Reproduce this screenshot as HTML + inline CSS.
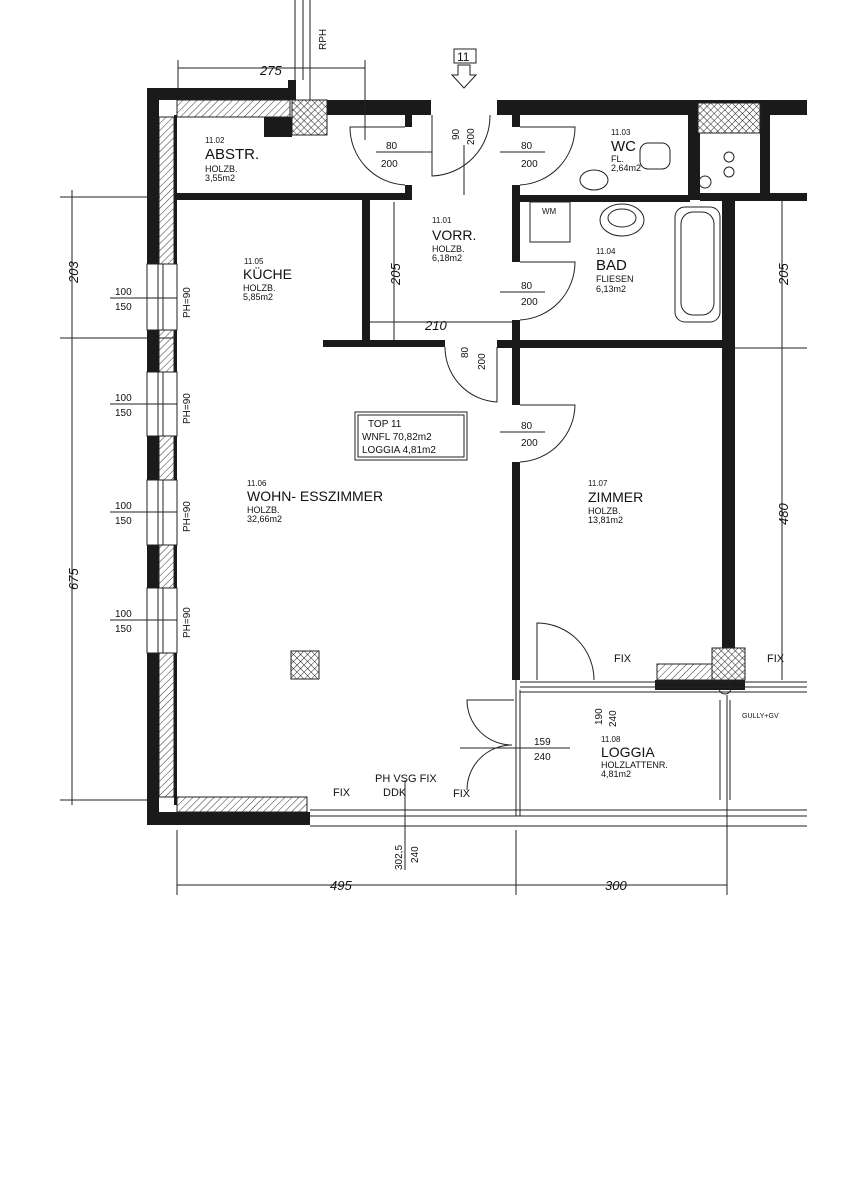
<!DOCTYPE html>
<html><head><meta charset="utf-8"><style>
html,body{margin:0;padding:0;background:#fff;}
svg{display:block;}
text{font-family:"Liberation Sans",sans-serif;fill:#111;}
</style></head><body>
<svg width="850" height="1200" viewBox="0 0 850 1200" xmlns="http://www.w3.org/2000/svg">
<defs>
<pattern id="h" width="5" height="5" patternUnits="userSpaceOnUse" patternTransform="rotate(45)"><rect width="5" height="5" fill="#fff"/><line x1="0" y1="0" x2="0" y2="5" stroke="#333" stroke-width="1"/></pattern>
<pattern id="x" width="5" height="5" patternUnits="userSpaceOnUse" patternTransform="rotate(45)"><rect width="5" height="5" fill="#fff"/><line x1="0" y1="0" x2="0" y2="5" stroke="#222" stroke-width="1"/><line x1="0" y1="0" x2="5" y2="0" stroke="#222" stroke-width="1"/></pattern>
</defs>
<g fill="#1a1a1a">
<!-- left outer wall -->
<rect x="147" y="88" width="12" height="737"/>
<rect x="174" y="115" width="3" height="690"/>
<!-- top -->
<rect x="147" y="88" width="148" height="12"/>
<rect x="288" y="80" width="8" height="20"/>
<rect x="327" y="100" width="104" height="15"/>
<rect x="497" y="100" width="310" height="15"/>
<rect x="264" y="117" width="28" height="20"/>
<!-- abstr -->
<rect x="177" y="193" width="235" height="7"/>
<rect x="405" y="115" width="7" height="12"/>
<rect x="405" y="185" width="7" height="15"/>
<rect x="362" y="200" width="8" height="143"/>
<rect x="323" y="340" width="122" height="7"/>
<rect x="497" y="340" width="228" height="8"/>
<!-- central wall -->
<rect x="512" y="115" width="8" height="12"/>
<rect x="512" y="185" width="8" height="77"/>
<rect x="512" y="320" width="8" height="85"/>
<rect x="512" y="462" width="8" height="218"/>
<!-- wc/bad -->
<rect x="520" y="195" width="170" height="7"/>
<rect x="688" y="100" width="12" height="100"/>
<rect x="700" y="193" width="107" height="8"/>
<rect x="760" y="100" width="10" height="95"/>
<rect x="722" y="200" width="13" height="450"/>
<!-- bottom -->
<rect x="147" y="812" width="163" height="13"/>
<rect x="655" y="680" width="90" height="10"/>
</g>
<g stroke="#222" stroke-width="1">
<rect x="159" y="117" width="15" height="148" fill="url(#h)"/>
<rect x="177" y="100" width="113" height="17" fill="url(#h)"/>
<rect x="292" y="100" width="35" height="35" fill="url(#x)"/>
<rect x="698" y="103" width="62" height="30" fill="url(#x)"/>
<rect x="159" y="330" width="15" height="42" fill="url(#h)"/>
<rect x="159" y="436" width="15" height="44" fill="url(#h)"/>
<rect x="159" y="545" width="15" height="43" fill="url(#h)"/>
<rect x="159" y="653" width="15" height="144" fill="url(#h)"/>
<rect x="177" y="797" width="130" height="15" fill="url(#h)"/>
<rect x="657" y="664" width="55" height="16" fill="url(#h)"/>
<rect x="712" y="648" width="33" height="32" fill="url(#x)"/>
<rect x="291" y="651" width="28" height="28" fill="url(#x)"/>
</g>
<g fill="#fff" stroke="#222" stroke-width="1">
<rect x="147" y="264" width="30" height="66"/><rect x="158" y="264" width="5" height="66"/>
<rect x="147" y="372" width="30" height="64"/><rect x="158" y="372" width="5" height="64"/>
<rect x="147" y="480" width="30" height="65"/><rect x="158" y="480" width="5" height="65"/>
<rect x="147" y="588" width="30" height="65"/><rect x="158" y="588" width="5" height="65"/>
</g>
<g fill="none" stroke="#222" stroke-width="1">
<!-- windows bottom -->
<line x1="310" y1="810" x2="807" y2="810"/><line x1="310" y1="816" x2="807" y2="816"/>
<line x1="310" y1="826" x2="807" y2="826"/>
<line x1="520" y1="682" x2="807" y2="682"/><line x1="520" y1="687" x2="807" y2="687"/>
<line x1="520" y1="692" x2="807" y2="692"/>
<line x1="516" y1="680" x2="516" y2="816"/><line x1="520" y1="690" x2="520" y2="816"/>
<!-- doors -->
<path d="M405 127 L350 127 A58 58 0 0 0 405 185"/>
<path d="M432 115 L432 176 A60 60 0 0 0 490 115"/>
<path d="M520 127 L575 127 A58 58 0 0 1 520 185"/>
<path d="M520 262 L575 262 A58 58 0 0 1 520 320"/>
<path d="M445 347 A55 55 0 0 0 497 402 L497 347"/>
<path d="M520 405 L575 405 A58 58 0 0 1 520 462"/>
<path d="M537 680 L537 623 A57 57 0 0 1 594 680"/>
<path d="M514 700 L467 700 A45 45 0 0 0 512 745 A45 45 0 0 0 467 790"/>
<!-- dims -->
<line x1="72" y1="190" x2="72" y2="805"/>
<line x1="60" y1="197" x2="160" y2="197"/><line x1="60" y1="338" x2="177" y2="338"/>
<line x1="60" y1="800" x2="150" y2="800"/>
<line x1="177" y1="885" x2="727" y2="885"/>
<line x1="177" y1="830" x2="177" y2="895"/><line x1="516" y1="830" x2="516" y2="895"/>
<line x1="727" y1="695" x2="727" y2="895"/>
<line x1="178" y1="68" x2="365" y2="68"/><line x1="178" y1="60" x2="178" y2="88"/><line x1="365" y1="60" x2="365" y2="140"/>
<line x1="782" y1="200" x2="782" y2="680"/><line x1="735" y1="348" x2="807" y2="348"/>
<line x1="370" y1="322" x2="512" y2="322"/><line x1="394" y1="202" x2="394" y2="340"/>
<line x1="110" y1="298" x2="177" y2="298"/><line x1="110" y1="404" x2="177" y2="404"/>
<line x1="110" y1="512" x2="177" y2="512"/><line x1="110" y1="620" x2="177" y2="620"/>
<line x1="376" y1="152" x2="432" y2="152"/><line x1="500" y1="152" x2="545" y2="152"/>
<line x1="500" y1="292" x2="545" y2="292"/><line x1="500" y1="432" x2="545" y2="432"/>
<line x1="460" y1="748" x2="570" y2="748"/><line x1="405" y1="780" x2="405" y2="870"/>
<line x1="464" y1="145" x2="464" y2="195"/>
<line x1="295" y1="0" x2="295" y2="80"/><line x1="310" y1="0" x2="310" y2="100"/><line x1="303" y1="0" x2="303" y2="80"/>
<line x1="720" y1="700" x2="720" y2="800"/><line x1="730" y1="700" x2="730" y2="800"/>
<!-- fixtures -->
<rect x="530" y="202" width="40" height="40"/>
<rect x="675" y="207" width="45" height="115" rx="10"/>
<rect x="681" y="212" width="33" height="103" rx="12"/>
<ellipse cx="622" cy="220" rx="22" ry="16"/><ellipse cx="622" cy="218" rx="14" ry="9"/>
<ellipse cx="594" cy="180" rx="14" ry="10"/>
<rect x="640" y="143" width="30" height="26" rx="8"/>
<rect x="454" y="49" width="22" height="14"/>
<path d="M458 65 L470 65 L470 75 L476 75 L464 88 L452 75 L458 75 Z"/>
<rect x="355" y="412" width="112" height="48"/><rect x="358" y="415" width="106" height="42"/>
<circle cx="705" cy="182" r="6"/><circle cx="729" cy="157" r="5"/><circle cx="729" cy="172" r="5"/>
<circle cx="725" cy="688" r="6"/>
</g>
<g font-size="10">
<text x="205" y="143" font-size="8">11.02</text>
<text x="205" y="159" font-size="15">ABSTR.</text>
<text x="205" y="172" font-size="9">HOLZB.</text>
<text x="205" y="181" font-size="9">3,55m2</text>
<text x="244" y="264" font-size="8">11.05</text>
<text x="243" y="279" font-size="14">KÜCHE</text>
<text x="243" y="291" font-size="9">HOLZB.</text>
<text x="243" y="300" font-size="9">5,85m2</text>
<text x="432" y="223" font-size="8">11.01</text>
<text x="432" y="240" font-size="14">VORR.</text>
<text x="432" y="252" font-size="9">HOLZB.</text>
<text x="432" y="261" font-size="9">6,18m2</text>
<text x="611" y="135" font-size="8">11.03</text>
<text x="611" y="151" font-size="15">WC</text>
<text x="611" y="162" font-size="9">FL.</text>
<text x="611" y="171" font-size="9">2,64m2</text>
<text x="542" y="214" font-size="8">WM</text>
<text x="596" y="254" font-size="8">11.04</text>
<text x="596" y="270" font-size="15">BAD</text>
<text x="596" y="282" font-size="9">FLIESEN</text>
<text x="596" y="292" font-size="9">6,13m2</text>
<text x="368" y="427" font-size="10">TOP 11</text>
<text x="362" y="440" font-size="10">WNFL 70,82m2</text>
<text x="362" y="453" font-size="10">LOGGIA 4,81m2</text>
<text x="247" y="486" font-size="8">11.06</text>
<text x="247" y="501" font-size="14">WOHN- ESSZIMMER</text>
<text x="247" y="513" font-size="9">HOLZB.</text>
<text x="247" y="522" font-size="9">32,66m2</text>
<text x="588" y="486" font-size="8">11.07</text>
<text x="588" y="502" font-size="14">ZIMMER</text>
<text x="588" y="514" font-size="9">HOLZB.</text>
<text x="588" y="523" font-size="9">13,81m2</text>
<text x="601" y="742" font-size="8">11.08</text>
<text x="601" y="757" font-size="14">LOGGIA</text>
<text x="601" y="768" font-size="9">HOLZLATTENR.</text>
<text x="601" y="777" font-size="9">4,81m2</text>
<text x="614" y="662" font-size="11">FIX</text><text x="767" y="662" font-size="11">FIX</text>
<text x="333" y="796" font-size="11">FIX</text><text x="453" y="797" font-size="11">FIX</text>
<text x="375" y="782" font-size="11">PH VSG FIX</text><text x="383" y="796" font-size="11">DDK</text>
<text x="742" y="718" font-size="7">GULLY+GV</text>
<text x="457" y="61" font-size="12">11</text>
<text x="386" y="149">80</text><text x="381" y="167">200</text>
<text x="521" y="149">80</text><text x="521" y="167">200</text>
<text x="521" y="289">80</text><text x="521" y="305">200</text>
<text x="521" y="429">80</text><text x="521" y="446">200</text>
<text x="534" y="745">159</text><text x="534" y="760">240</text>
<text x="115" y="295">100</text><text x="115" y="310">150</text>
<text x="115" y="401">100</text><text x="115" y="416">150</text>
<text x="115" y="509">100</text><text x="115" y="524">150</text>
<text x="115" y="617">100</text><text x="115" y="632">150</text>
<text x="260" y="75" font-size="13" font-style="italic">275</text>
<text x="425" y="330" font-size="13" font-style="italic">210</text>
<text x="330" y="890" font-size="13" font-style="italic">495</text>
<text x="605" y="890" font-size="13" font-style="italic">300</text>
<text transform="translate(78,283) rotate(-90)" font-size="13" font-style="italic">203</text>
<text transform="translate(78,590) rotate(-90)" font-size="13" font-style="italic">675</text>
<text transform="translate(400,285) rotate(-90)" font-size="13" font-style="italic">205</text>
<text transform="translate(788,285) rotate(-90)" font-size="13" font-style="italic">205</text>
<text transform="translate(788,525) rotate(-90)" font-size="13" font-style="italic">480</text>
<text transform="translate(190,318) rotate(-90)">PH=90</text>
<text transform="translate(190,424) rotate(-90)">PH=90</text>
<text transform="translate(190,532) rotate(-90)">PH=90</text>
<text transform="translate(190,638) rotate(-90)">PH=90</text>
<text transform="translate(459,140) rotate(-90)">90</text>
<text transform="translate(474,145) rotate(-90)">200</text>
<text transform="translate(468,358) rotate(-90)">80</text>
<text transform="translate(485,370) rotate(-90)">200</text>
<text transform="translate(602,725) rotate(-90)">190</text>
<text transform="translate(616,727) rotate(-90)">240</text>
<text transform="translate(402,870) rotate(-90)">302,5</text>
<text transform="translate(418,863) rotate(-90)">240</text>
<text transform="translate(326,50) rotate(-90)">RPH</text>
</g>
</svg>
</body></html>
